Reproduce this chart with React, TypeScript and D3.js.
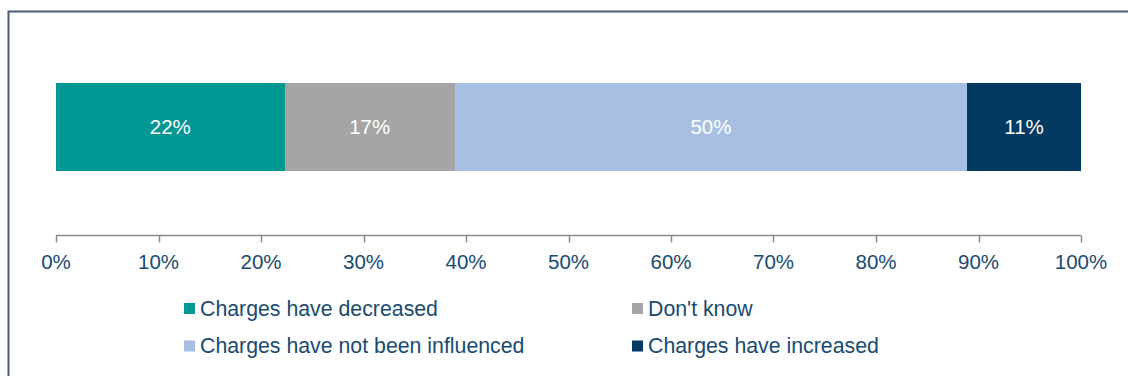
import React, { useRef, useEffect } from 'react';
import * as d3 from 'd3';

const categories = ['Charges have decreased', "Don't know", 'Charges have not been influenced', 'Charges have increased'];
const values = [22.3, 16.6, 50.0, 11.1];
const labels = ['22%', '17%', '50%', '11%'];
const colors = ['#009793', '#a5a5a5', '#a6bfe2', '#023a62'];
const ticks = [0, 10, 20, 30, 40, 50, 60, 70, 80, 90, 100];

const W = 1128;
const H = 376;

const App: React.FC = () => {
  const svgRef = useRef<SVGSVGElement | null>(null);

  useEffect(() => {
    if (!svgRef.current) return;
    const svg = d3.select(svgRef.current);
    svg.selectAll('*').remove();

    const font = 'Liberation Sans, Arial, sans-serif';
    const fontSize = 20.5;
    const textColor = '#184b72';

    // frame
    svg.append('rect')
      .attr('x', 8.5)
      .attr('y', 11.5)
      .attr('width', W + 20)
      .attr('height', H + 20)
      .attr('fill', 'none')
      .attr('stroke', '#4b5a78')
      .attr('stroke-width', 2);

    const x = d3.scaleLinear().domain([0, 100]).range([56, 1081]);
    const barTop = 83;
    const barH = 88;

    // stacked segments
    let acc = 0;
    const segs = values.map((v, i) => {
      const s = { start: acc, end: acc + v, i };
      acc += v;
      return s;
    });

    svg.selectAll('.seg')
      .data(segs)
      .enter()
      .append('rect')
      .attr('class', 'seg')
      .attr('x', d => Math.round(x(d.start)))
      .attr('y', barTop)
      .attr('width', d => Math.round(x(d.end)) - Math.round(x(d.start)))
      .attr('height', barH)
      .attr('shape-rendering', 'crispEdges')
      .attr('fill', d => colors[d.i]);

    svg.selectAll('.seg-label')
      .data(segs)
      .enter()
      .append('text')
      .attr('x', d => (x(d.start) + x(d.end)) / 2)
      .attr('y', barTop + barH / 2)
      .attr('dy', '0.35em')
      .attr('text-anchor', 'middle')
      .attr('font-family', font)
      .attr('font-size', fontSize)
      .attr('fill', '#ffffff')
      .text(d => labels[d.i]);

    // x axis
    const axisY = 235.5;
    const axis = svg.append('g').attr('transform', `translate(0,${axisY})`);
    axis.append('line')
      .attr('x1', x(0))
      .attr('x2', x(100))
      .attr('stroke', '#8c8c8c')
      .attr('stroke-width', 1.5);
    axis.selectAll('.tick')
      .data(ticks)
      .enter()
      .append('line')
      .attr('x1', d => Math.round(x(d)) + 0.5)
      .attr('x2', d => Math.round(x(d)) + 0.5)
      .attr('y1', 0)
      .attr('y2', 7)
      .attr('stroke', '#8c8c8c')
      .attr('stroke-width', 1.5);
    axis.selectAll('.tick-label')
      .data(ticks)
      .enter()
      .append('text')
      .attr('x', d => x(d))
      .attr('y', 33)
      .attr('text-anchor', 'middle')
      .attr('font-family', font)
      .attr('font-size', fontSize)
      .attr('fill', textColor)
      .text(d => `${d}%`);

    // legend
    const legendPos = [
      { x: 184, y: 308.5 },
      { x: 632, y: 308.5 },
      { x: 184, y: 346 },
      { x: 632, y: 346 },
    ];
    const lg = svg.selectAll('.legend')
      .data(categories)
      .enter()
      .append('g')
      .attr('transform', (_d, i) => `translate(${legendPos[i].x},${legendPos[i].y})`);
    lg.append('rect')
      .attr('x', 0)
      .attr('y', -5.5)
      .attr('width', 11)
      .attr('height', 11)
      .attr('fill', (_d, i) => colors[i]);
    lg.append('text')
      .attr('x', 16)
      .attr('y', 0)
      .attr('dy', '0.35em')
      .attr('font-family', font)
      .attr('font-size', 21.3)
      .attr('fill', textColor)
      .text(d => d);
  }, []);

  return (
    <svg
      ref={svgRef}
      width={W}
      height={H}
      style={{ position: 'absolute', left: 0, top: 0, display: 'block' }}
    />
  );
};

export default App;
